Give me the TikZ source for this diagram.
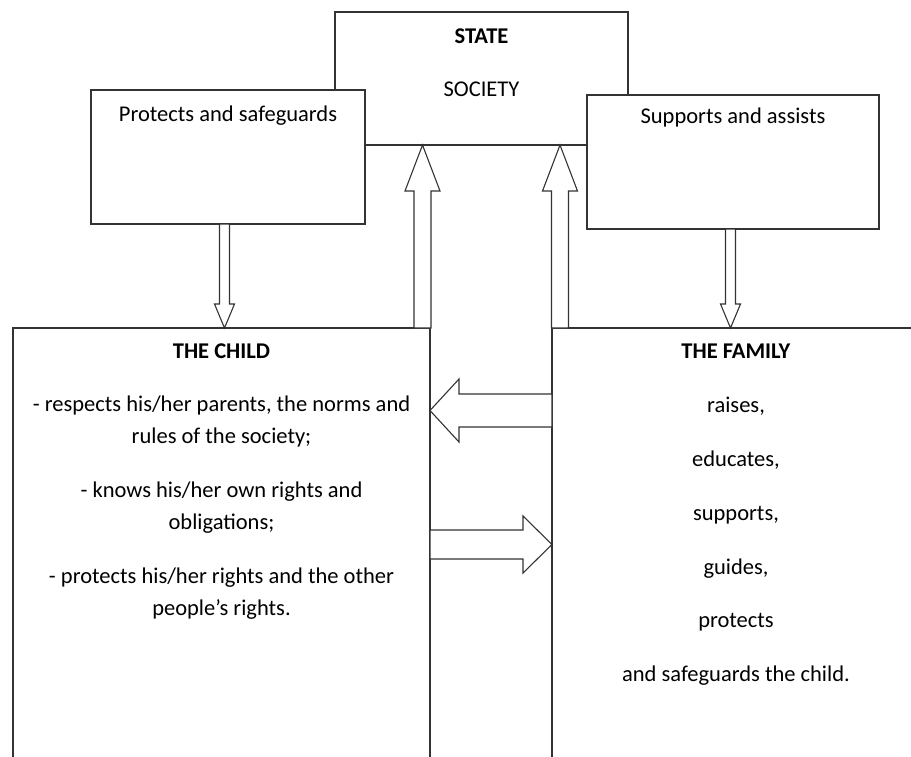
\documentclass[tikz,border=0pt]{standalone}
\usepackage{fontspec}
\setmainfont{Carlito}
\usepackage{tikz}
\usetikzlibrary{positioning, calc}
\tikzstyle{box}      = [rectangle, draw=black!80, line width=1.2pt, fill=white,
                        anchor=north west, inner sep=0pt, outer sep=0pt]
\tikzstyle{txt}      = [inner sep=0pt, align=center,
                        font=\fontsize{22.5}{31.5}\selectfont]
\tikzstyle{bigarrow} = [draw=black!80, line width=1.1pt, fill=white, line join=miter]
% block arrow: from, to, shaft half width, head half width, head length
\newcommand{\blockarrow}[5]{%
  \coordinate (hb) at ($(#2)!#5!(#1)$);
  \draw[bigarrow] ($(#1)!#3!90:(#2)$) -- ($(hb)!#3!90:(#2)$) -- ($(hb)!#4!90:(#2)$)
    -- (#2) -- ($(hb)!#4!-90:(#2)$) -- ($(hb)!#3!-90:(#2)$) -- ($(#1)!#3!-90:(#2)$) -- cycle;
}

\begin{document}
\begin{tikzpicture}[x=1pt, y=-1pt]
    \useasboundingbox (0,0) rectangle (911,756);
    \clip (0,0) rectangle (911,756);

    % ── Boxes ───────────────────────────────────────────────────────────────
    \node (state)  [box, minimum width=293pt, minimum height=133pt] at (335,12)  {};
    \node (prot)   [box, minimum width=274pt, minimum height=134pt] at (91,90)   {};
    \node (supp)   [box, minimum width=292pt, minimum height=134pt] at (587,95)  {};
    \node (child)  [box, minimum width=417pt, minimum height=480pt] at (13,328)  {};
    \node (family) [box, minimum width=368pt, minimum height=480pt] at (552,328) {};

    % ── Texts ───────────────────────────────────────────────────────────────
    \node (statetxt)  [txt, below=17pt of state.north] {\textbf{STATE}\\[21pt] SOCIETY};
    \node (prottxt)   [txt, below=16pt of prot.north]  {Protects and safeguards};
    \node (supptxt)   [txt, below=13pt of supp.north]  {Supports and assists};
    \node (childtxt)  [txt, below=16pt of child.north]
        {\textbf{THE CHILD}\\[21.5pt]
         - respects his/her parents, the norms and\\ rules of the society;\\[23pt]
         - knows his/her own rights and\\ obligations;\\[23pt]
         - protects his/her rights and the other\\ people’s rights.};
    \node (familytxt) [txt, below=16pt of family.north]
        {\textbf{THE FAMILY}\\[22.3pt] raises,\\[22.3pt] educates,\\[22.3pt] supports,\\[22.3pt]
         guides,\\[22.3pt] protects\\[22.3pt] and safeguards the child.};

    % ── Arrows ──────────────────────────────────────────────────────────────
    \coordinate (pdn) at ([xshift=-3.5pt]prot.south);
    \coordinate (sdn) at ([xshift=-2.5pt]supp.south);
    \coordinate (cup) at ([xshift=-7.5pt]child.north east);
    \coordinate (fup) at ([xshift=8pt]family.north west);
    \coordinate (fl)  at ([yshift=-82.5pt]family.north west);
    \coordinate (cr)  at ([yshift=-216.5pt]child.north east);

    \blockarrow{pdn}{pdn |- child.north}{5pt}{10pt}{24pt}
    \blockarrow{sdn}{sdn |- child.north}{5pt}{10pt}{24pt}
    \blockarrow{cup}{cup |- state.south}{8.5pt}{17.5pt}{46pt}
    \blockarrow{fup}{fup |- state.south}{8.5pt}{17.5pt}{46pt}
    \blockarrow{fl}{fl -| child.east}{16.5pt}{31.5pt}{29pt}
    \blockarrow{cr}{cr -| family.west}{14.5pt}{28.5pt}{29pt}

\end{tikzpicture}
\end{document}
